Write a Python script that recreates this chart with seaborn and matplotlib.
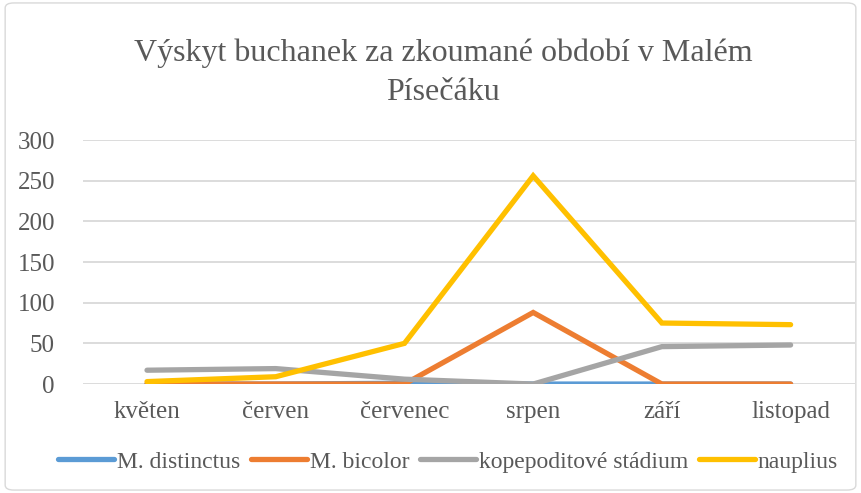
import matplotlib
matplotlib.use("Agg")
import matplotlib.pyplot as plt
import seaborn as sns
import pandas as pd
from matplotlib.patches import FancyBboxPatch
from matplotlib.lines import Line2D

months = ["květen", "červen", "červenec", "srpen", "září", "listopad"]
distinctus = [0, 0, 1, 0, 0, 0]
bicolor = [0, 0, 0, 88, 0, 0]
kopepodit = [17, 19, 6, 0, 46, 48]
nauplius = [3, 9, 50, 256, 75, 73]
series_names = ["M. distinctus", "M. bicolor", "kopepoditové stádium", "nauplius"]
colors = ["#5B9BD5", "#ED7D31", "#A5A5A5", "#FFC000"]
yticks = [0, 50, 100, 150, 200, 250, 300]

rows = []
for name, vals in zip(series_names, [distinctus, bicolor, kopepodit, nauplius]):
    for i, (m, v) in enumerate(zip(months, vals)):
        rows.append({"month": m, "idx": i, "value": v, "series": name})
df = pd.DataFrame(rows)

sns.set_style("white")
plt.rcParams['font.family'] = ['Liberation Serif', 'DejaVu Serif']

fig = plt.figure(figsize=(8.61, 4.93), dpi=100)
ax = fig.add_axes([0.096, 0.221, 0.897, 0.495])

sns.lineplot(data=df, x="idx", y="value", hue="series", palette=colors,
             hue_order=series_names, linewidth=3.8, ax=ax, legend=False,
             sort=False)
for line in ax.get_lines():
    line.set_solid_capstyle("round")
    line.set_solid_joinstyle("miter")

ax.set_xlim(-0.5, 5.5)
ax.set_ylim(0, 300)
ax.set_yticks(yticks)
ax.set_yticklabels([str(t) for t in yticks], fontsize=18, color="#595959")
ax.set_xticks(range(len(months)))
ax.set_xticklabels(months, fontsize=18, color="#595959")
ax.tick_params(axis="both", length=0)
ax.tick_params(axis="y", pad=20)
ax.tick_params(axis="x", pad=12)
ax.yaxis.grid(True, color="#D9D9D9", linewidth=1.3)
ax.set_axisbelow(True)
for s in ax.spines.values():
    s.set_visible(False)
ax.set_xlabel("")
ax.set_ylabel("")

fig.text(0.515, 0.852, "Výskyt buchanek za zkoumané období v Malém\nPísečáku",
         ha="center", va="center", fontsize=23, color="#595959", linespacing=1.45)

handles = [Line2D([0], [0], color=c, linewidth=3.8, solid_capstyle="round") for c in colors]
fig.legend(handles, series_names, loc="center", bbox_to_anchor=(0.52, 0.063), ncol=4,
           frameon=False, fontsize=17, handlelength=2.4, handletextpad=0.1,
           columnspacing=0.45, labelcolor="#595959")

border = FancyBboxPatch((0.006, 0.006), 0.988, 0.988, boxstyle="round,pad=0,rounding_size=0.01",
                        transform=fig.transFigure, fill=False, edgecolor="#D9D9D9", linewidth=1)
fig.patches.append(border)

fig.savefig("out.png", dpi=100, facecolor="white")
